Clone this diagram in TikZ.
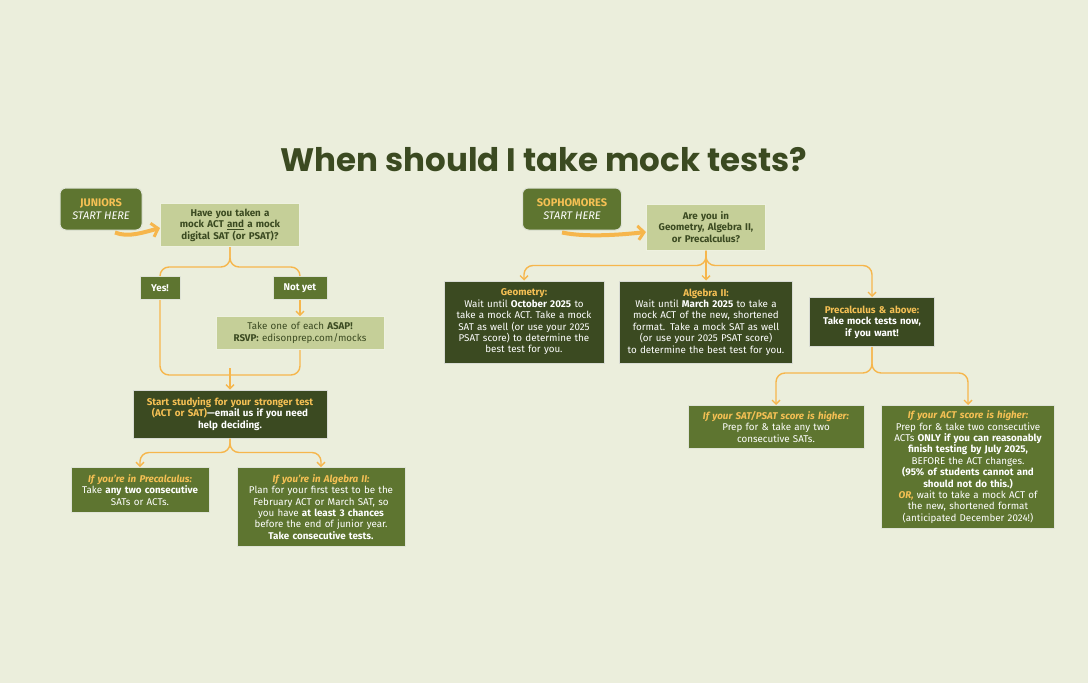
\documentclass[tikz,border=0pt]{standalone}
\usepackage{fontspec}
\setmainfont{Fira Sans}
\newfontfamily\titlefont{Poppins}
\usetikzlibrary{arrows.meta}
\definecolor{bgcol}{HTML}{EBEEDC}
\definecolor{lightgr}{HTML}{C5CF98}
\definecolor{midgr}{HTML}{5E7530}
\definecolor{darkgr}{HTML}{3B4A21}
\definecolor{flowcol}{HTML}{F6B64C}
\definecolor{headcol}{HTML}{F5C054}
\newcommand{\hd}[1]{{\color{headcol}\bfseries #1}}
\newcommand{\hdi}[1]{{\color{headcol}\bfseries\itshape #1}}
\newcommand{\boxfont}{\hyphenpenalty=10000\exhyphenpenalty=10000\fontsize{9.8}{11.4}\selectfont}
\tikzset{
  anybox/.style={rectangle,inner sep=3pt,align=center,font=\boxfont},
  lightbox/.style={anybox,fill=lightgr,text=darkgr,draw=white!70!lightgr,line width=1pt},
  midbox/.style={anybox,fill=midgr,text=white,draw=white!80!midgr,line width=1pt},
  darkbox/.style={anybox,fill=darkgr,text=white,draw=white!80!darkgr,line width=1pt},
  startbox/.style={midbox,rounded corners=6pt,font=\fontsize{11}{13}\selectfont},
  flow/.style={draw=flowcol,line width=1.4pt,rounded corners=9pt},
  flowarr/.style={flow,-{Straight Barb[length=4pt,width=8pt]}},
  bigarr/.style={draw=flowcol,line width=4pt,-{Straight Barb[length=6pt,width=14pt,line width=3pt]}}
}
\begin{document}
\begin{tikzpicture}[x=1pt,y=-1pt]
\fill[bgcol] (0,0) rectangle (1088,683);
\useasboundingbox (0,0) rectangle (1088,683);
\node[text=darkgr,font=\titlefont\bfseries\fontsize{32.5}{36}\selectfont] (title) at (544,160) {When should I take mock tests?};

% juniors
\node[startbox,minimum width=82,minimum height=42] (jun) at (101,209)
  {\hd{JUNIORS}\\\itshape START HERE};
\node[lightbox,text width=133,minimum height=43,font=\boxfont\bfseries] (q1) at (230,225)
  {Have you taken a\\mock ACT \underline{and} a mock\\digital SAT (or PSAT)?};
\node[midbox,minimum width=40,minimum height=23,font=\boxfont\bfseries] (yes) at (160,288) {Yes!};
\node[midbox,minimum width=54,minimum height=23,font=\boxfont\bfseries] (notyet) at (300,288) {Not yet};
\node[lightbox,text width=162,minimum height=33] (asap) at (300,333)
  {Take one of each \textbf{ASAP!}\\\textbf{RSVP:} edisonprep.com/mocks};
\node[darkbox,text width=188,minimum height=48,font=\boxfont\bfseries] (study) at (230,414)
  {\hd{Start studying for your stronger test}\\\hd{(ACT or SAT)}---email us if you need\\help deciding.};
\node[midbox,text width=132,minimum height=45] (jpre) at (140,490)
  {\hdi{If you're in Precalculus:}\\Take \textbf{any two consecutive}\\SATs or ACTs.};
\node[midbox,text width=162,minimum height=79] (jalg) at (321,507)
  {\hdi{If you're in Algebra II:}\\Plan for your first test to be the\\February ACT or March SAT, so\\you have \textbf{at least 3 chances}\\before the end of junior year.\\\textbf{Take consecutive tests.}};

% sophomores
\node[startbox,minimum width=99,minimum height=42] (soph) at (572,209)
  {\hd{SOPHOMORES}\\\itshape START HERE};
\node[lightbox,text width=113,minimum height=46,font=\boxfont\bfseries] (q2) at (706,227)
  {Are you in\\Geometry, Algebra II,\\or Precalculus?};
\node[darkbox,text width=154,minimum height=82] (geo) at (524,322)
  {\hd{Geometry:}\\Wait until \textbf{October 2025} to\\take a mock ACT. Take a mock\\SAT as well (or use your 2025\\PSAT score) to determine the\\best test for you.};
\node[darkbox,text width=167,minimum height=82] (salg) at (706,322)
  {\hd{Algebra II:}\\Wait until \textbf{March 2025} to take a\\mock ACT of the new, shortened\\format. Take a mock SAT as well\\(or use your 2025 PSAT score)\\to determine the best test for you.};
\node[darkbox,text width=119,minimum height=49,font=\boxfont\bfseries] (spre) at (872,322)
  {\hd{Precalculus \& above:}\\Take mock tests now,\\if you want!};
\node[midbox,text width=170,minimum height=43] (sat) at (776,427)
  {\hdi{If your SAT/PSAT score is higher:}\\Prep for \& take any two\\consecutive SATs.};
\node[midbox,text width=167,minimum height=123] (act) at (968,467)
  {\hdi{If your ACT score is higher:}\\Prep for \& take two consecutive\\ACTs \textbf{ONLY if you can reasonably}\\\textbf{finish testing by July 2025,}\\BEFORE the ACT changes.\\\textbf{(95\% of students cannot and}\\\textbf{should not do this.)}\\\hdi{OR,} wait to take a mock ACT of\\the new, shortened format\\(anticipated December 2024!)};

% connectors
\draw[bigarr] (jun.south) ++(14,2) coordinate (j0) .. controls (128,238) and (145,232) .. (q1.west |- 0,228);
\draw[bigarr] (soph.south) ++(-10,2) coordinate (s0) .. controls (588,238) and (628,234) .. (q2.west |- 0,232);
\draw[flow] (q1.south) -- ++(0,20) -| (yes.north);
\draw[flow] (q1.south) -- ++(0,20) -| (notyet.north);
\draw[flowarr] (notyet) -- (asap);
\draw[flow] (yes.south) |- (230,375);
\draw[flow] (asap.south) |- (230,375);
\draw[flowarr] (230,368) -- (study.north);
\draw[flowarr] (study.south) -- ++(0,14) -| (jpre.north);
\draw[flowarr] (study.south) -- ++(0,14) -| (jalg.north);
\draw[flowarr] (q2.south) -- ++(0,15) -| (geo.north);
\draw[flowarr] (q2.south) -- (salg.north);
\draw[flowarr] (q2.south) -- ++(0,15) -| (spre.north);
\draw[flowarr] (spre.south) -- ++(0,26) -| (sat.north);
\draw[flowarr] (spre.south) -- ++(0,26) -| (act.north);
\end{tikzpicture}
\end{document}
